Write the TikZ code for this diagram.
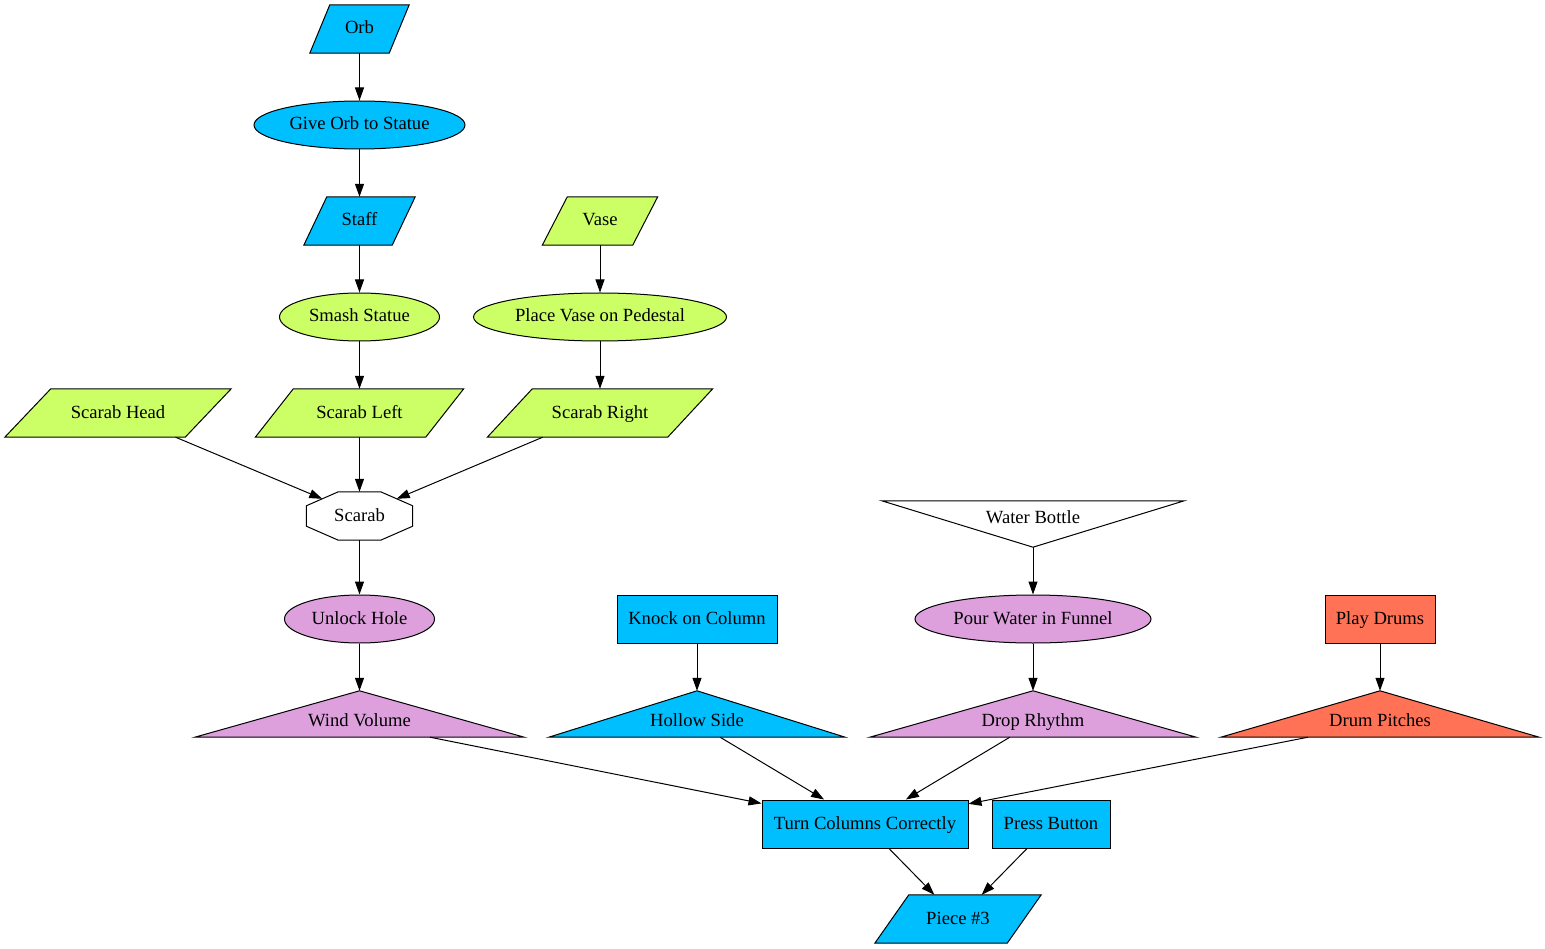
\documentclass[tikz,border=0pt]{standalone}
\usepackage{fontspec}
\setmainfont{Liberation Serif}
\usetikzlibrary{shapes.geometric,arrows.meta,calc,backgrounds}
\definecolor{cblue}{HTML}{00BFFF}
\definecolor{cgreen}{HTML}{CCFF66}
\definecolor{cplum}{HTML}{DDA0DD}
\definecolor{ccoral}{HTML}{FF7256}
\newcommand\drawpara[3]{\filldraw[shapeline,fill=#3] ([xshift=#2]#1.north west) -- (#1.north east) -- ([xshift=-#2]#1.south east) -- (#1.south west) -- cycle;}
\newcommand\drawtri[2]{\filldraw[shapeline,fill=#2] (#1.south west) -- (#1.north) -- (#1.south east) -- cycle;}
\newcommand\drawinvtri[2]{\filldraw[shapeline,fill=#2] (#1.north west) -- (#1.north east) -- (#1.south) -- cycle;}
\newcommand\lowtext[2]{\raisebox{#1}[0pt][0pt]{#2}}
\begin{document}
\begin{tikzpicture}[x=1pt,y=-1pt,
  font=\fontsize{18.6pt}{22pt}\selectfont,
  shapeline/.style={draw=black,line width=1pt},
  box/.style={inner sep=0pt,text height=14pt,text depth=4pt,minimum height=48pt},
  para/.style={box},
  ell/.style={box,ellipse,shapeline,fill=#1},
  rect/.style={box,rectangle,shapeline,fill=#1},
  tri/.style={inner sep=0pt,text height=0pt,text depth=0pt,minimum height=46pt},
  octa/.style={box},
  edge/.style={line width=1pt,-{Triangle[length=13pt,width=9pt]}}]
\useasboundingbox (0,0) rectangle (1545,949);
% nodes
\node[para,minimum width=99pt] (orb) at (359.5,29) {Orb};
\node[ell=cblue,minimum width=211pt] (give) at (359.5,125) {Give Orb to Statue};
\node[para,minimum width=111pt] (staff) at (359.5,221) {Staff};
\node[para,minimum width=115pt] (vase) at (600,221) {Vase};
\node[ell=cgreen,minimum width=160pt] (smash) at (359.5,317) {Smash Statue};
\node[ell=cgreen,minimum width=253pt] (place) at (600,317) {Place Vase on Pedestal};
\node[para,minimum width=226pt] (head) at (118,413) {Scarab Head};
\node[para,minimum width=208pt] (left) at (359.5,413) {Scarab Left};
\node[para,minimum width=225pt] (right) at (600,413) {Scarab Right};
\node[octa,minimum width=106pt] (scarab) at (359.5,516) {Scarab};
\node[tri,minimum width=302pt] (bottle) at (1033,524) {\lowtext{1pt}{Water Bottle}};
\node[ell=cplum,minimum width=150pt] (unlock) at (359.5,619) {Unlock Hole};
\node[rect=cblue,minimum width=160pt] (knock) at (697,619) {Knock on Column};
\node[ell=cplum,minimum width=236pt] (pour) at (1033,619) {Pour Water in Funnel};
\node[rect=ccoral,minimum width=110pt] (play) at (1380,619) {Play Drums};
\node[tri,minimum width=329pt] (wind) at (359.5,714) {\lowtext{-12pt}{Wind Volume}};
\node[tri,minimum width=296pt] (hollow) at (697,714) {\lowtext{-12pt}{Hollow Side}};
\node[tri,minimum width=326pt] (drop) at (1033,714) {\lowtext{-12pt}{Drop Rhythm}};
\node[tri,minimum width=318pt] (drum) at (1380,714) {\lowtext{-12pt}{Drum Pitches}};
\node[rect=cblue,minimum width=206pt] (turn) at (865,824) {Turn Columns Correctly};
\node[rect=cblue,minimum width=118pt] (press) at (1051,824) {Press Button};
\node[para,minimum width=166pt] (piece) at (958,919) {Piece \#3};
% shapes drawn behind the texts
\begin{scope}[on background layer]
\drawpara{orb}{20pt}{cblue}
\drawpara{staff}{23pt}{cblue}
\drawpara{vase}{25pt}{cgreen}
\drawpara{head}{46pt}{cgreen}
\drawpara{left}{38pt}{cgreen}
\drawpara{right}{45pt}{cgreen}
\drawpara{piece}{34pt}{cblue}
\filldraw[shapeline,fill=white] ([xshift=32pt]scarab.north west) -- ([xshift=-32pt]scarab.north east)
  -- ([yshift=-14pt]scarab.north east) -- ([yshift=14pt]scarab.south east)
  -- ([xshift=-32pt]scarab.south east) -- ([xshift=32pt]scarab.south west)
  -- ([yshift=14pt]scarab.south west) -- ([yshift=-14pt]scarab.north west) -- cycle;
\drawinvtri{bottle}{white}
\drawtri{wind}{cplum}
\drawtri{hollow}{cblue}
\drawtri{drop}{cplum}
\drawtri{drum}{ccoral}
\end{scope}
\coordinate (scarabNW) at ($(scarab.north west)+(16pt,-7pt)$);
\coordinate (scarabNE) at ($(scarab.north east)+(-16pt,-7pt)$);
% edges
\draw[edge] (orb) -- (give);
\draw[edge] (give) -- (staff);
\draw[edge] (staff) -- (smash);
\draw[edge] (smash) -- (left);
\draw[edge] (vase) -- (place);
\draw[edge] (place) -- (right);
\draw[edge] (head) -- (scarabNW);
\draw[edge] (left) -- (scarab);
\draw[edge] (right) -- (scarabNE);
\draw[edge] (scarab) -- (unlock);
\draw[edge] (unlock) -- (wind.north);
\draw[edge] (knock) -- (hollow.north);
\draw[edge] (bottle.south) -- (pour);
\draw[edge] (pour) -- (drop.north);
\draw[edge] (play) -- (drum.north);
\draw[edge] ($(wind.south west)!0.714!(wind.south east)$) -- (turn);
\draw[edge] ($(hollow.south west)!0.578!(hollow.south east)$) -- (turn);
\draw[edge] ($(drop.south west)!0.429!(drop.south east)$) -- (turn);
\draw[edge] ($(drum.south west)!0.274!(drum.south east)$) -- (turn);
\draw[edge] (turn) -- (piece);
\draw[edge] (press) -- (piece);
\end{tikzpicture}
\end{document}
